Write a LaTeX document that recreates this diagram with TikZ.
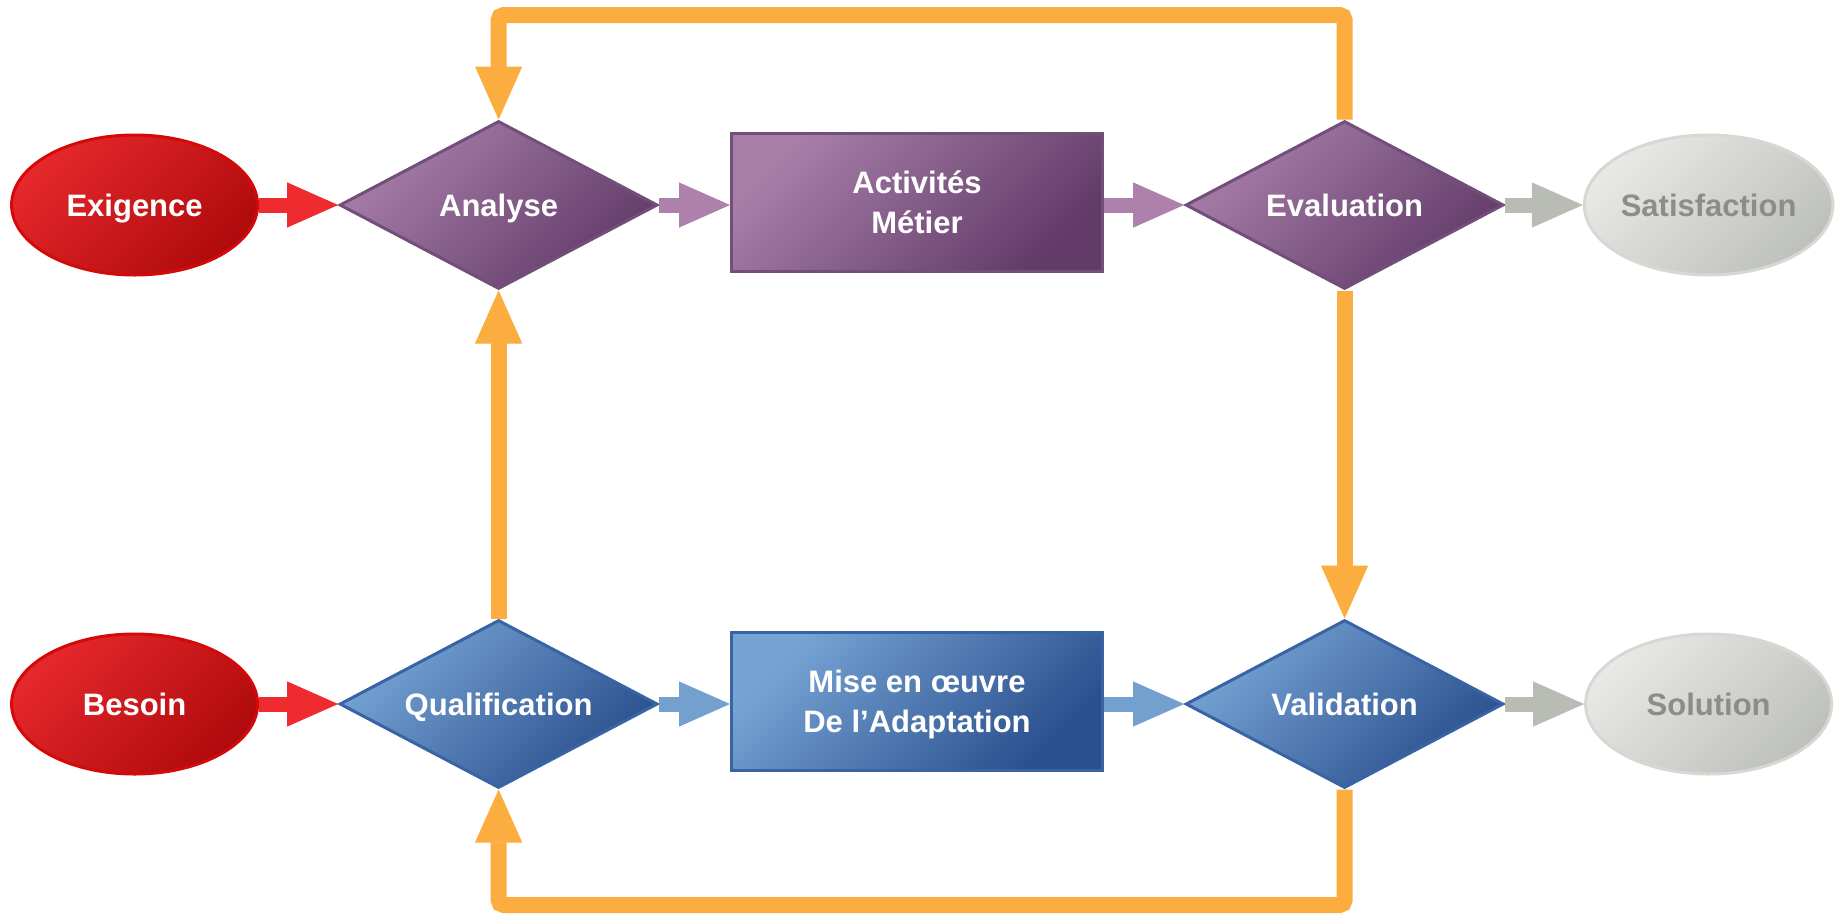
\documentclass[tikz,border=0pt]{standalone}
\usepackage{fontspec}
\setmainfont{Liberation Sans}
\usetikzlibrary{shapes.geometric,arrows.meta}
\definecolor{redL}{HTML}{E5282C}
\definecolor{redD}{HTML}{B00A0C}
\definecolor{redB}{HTML}{D40A0A}
\definecolor{redA}{HTML}{EE2B2F}
\definecolor{purL}{HTML}{A67EA8}
\definecolor{purD}{HTML}{623B69}
\definecolor{purB}{HTML}{724F79}
\definecolor{purA}{HTML}{AE80AC}
\definecolor{bluL}{HTML}{76A3D4}
\definecolor{bluD}{HTML}{2A4F8D}
\definecolor{bluB}{HTML}{3863A4}
\definecolor{bluA}{HTML}{74A0D0}
\definecolor{gryL}{HTML}{E8E9E6}
\definecolor{gryD}{HTML}{BEC0BB}
\definecolor{gryB}{HTML}{D6D8D3}
\definecolor{gryA}{HTML}{B9BCB4}
\definecolor{gryT}{HTML}{8B8D88}
\definecolor{orng}{HTML}{FBAD3F}
\tikzset{
  txt/.style={font=\fontsize{31}{40}\selectfont\bfseries, text=white, align=center, text height=22pt, text depth=0pt},
  blob/.style={ellipse, minimum width=246pt, minimum height=140pt, inner sep=0pt, line width=3pt, txt},
  choice/.style={diamond, aspect=1.9, minimum width=318pt, minimum height=168pt, inner sep=0pt, line width=3pt, txt},
  task/.style={rectangle, minimum width=371pt, minimum height=138pt, inner sep=0pt, line width=3pt, txt, text height=62pt},
  redblob/.style={blob, draw=redB, top color=redL, bottom color=redD, shading angle=45},
  greyblob/.style={blob, draw=gryB, top color=gryL, bottom color=gryD, shading angle=45, text=gryT},
  purchoice/.style={choice, draw=purB, top color=purL, bottom color=purD, shading angle=45},
  bluchoice/.style={choice, draw=bluB, top color=bluL, bottom color=bluD, shading angle=45},
  purtask/.style={task, draw=purB, top color=purL, bottom color=purD, shading angle=45},
  blutask/.style={task, draw=bluB, top color=bluL, bottom color=bluD, shading angle=45},
  flow/.style={draw=#1, line width=15pt, -{Triangle[width=45pt,length=51pt,line width=1pt,fill=#1]}},
  back/.style={draw=orng, line width=16pt, rounded corners=5pt, -{Triangle[width=47pt,length=53pt,line width=1pt,fill=orng]}}
}
\begin{document}
\begin{tikzpicture}[x=1pt,y=-1pt]
    \useasboundingbox (0,0) rectangle (1835,913);
    % top row
    \node[redblob] (exig) at (134.6,205) {Exigence};
    \node[purchoice] (ana) at (498.6,205) {Analyse};
    \node[purtask] (act) at (917,202) {Activités\\Métier};
    \node[purchoice] (eval) at (1344.6,205) {Evaluation};
    \node[greyblob] (sat) at (1708.6,205) {Satisfaction};
    % bottom row
    \node[redblob] (bes) at (134.6,704) {Besoin};
    \node[bluchoice] (qual) at (498.6,704) {Qualification};
    \node[blutask] (mise) at (917,701) {Mise en œuvre\\De l’Adaptation};
    \node[bluchoice] (valid) at (1344.6,704) {Validation};
    \node[greyblob] (sol) at (1708.6,704) {Solution};
    % arrows
    \draw[flow=redA] (exig) -- (ana);
    \draw[flow=purA] (ana.east) -- (ana.east -| act.west);
    \draw[flow=purA] (act.east |- eval.west) -- (eval.west);
    \draw[flow=gryA] (eval) -- (sat);
    \draw[flow=redA] (bes) -- (qual);
    \draw[flow=bluA] (qual.east) -- (qual.east -| mise.west);
    \draw[flow=bluA] (mise.east |- valid.west) -- (valid.west);
    \draw[flow=gryA] (valid) -- (sol);
    % loops
    \coordinate (topy) at (0,15);
    \coordinate (boty) at (0,905);
    \draw[back] (eval.north) -- (eval.north |- topy) -- (ana.north |- topy) -- (ana.north);
    \draw[back] (qual.north) -- (ana.south);
    \draw[back] (eval.south) -- (valid.north);
    \draw[back] (valid.south) -- (valid.south |- boty) -- (qual.south |- boty) -- (qual.south);
\end{tikzpicture}
\end{document}
